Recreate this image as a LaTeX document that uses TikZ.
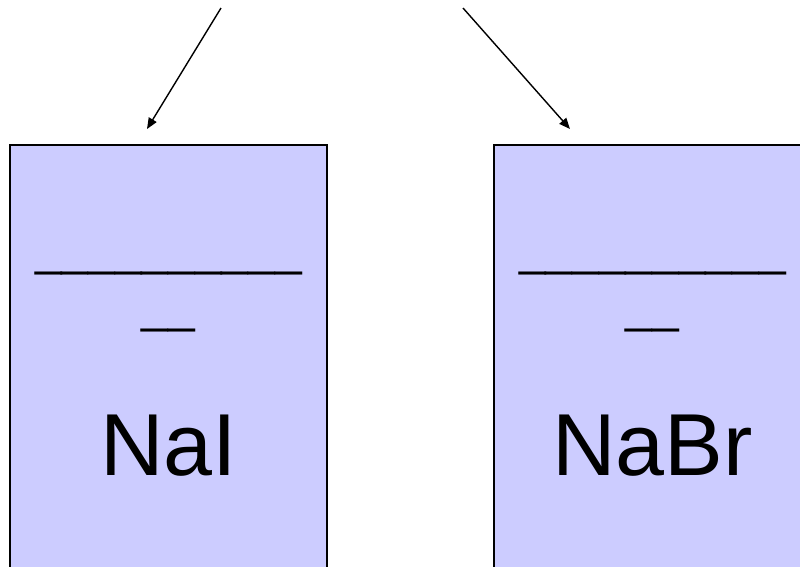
\documentclass[tikz,border=0pt]{standalone}
\usepackage{fontspec}
\setmainfont{Liberation Sans}
\usetikzlibrary{arrows.meta}
\definecolor{boxfill}{HTML}{CCCCFF}
\begin{document}
\begin{tikzpicture}[x=1pt,y=-1pt,
  tank/.style={draw=black, line width=1.4pt, fill=boxfill},
  blank/.style={font=\fontsize{48}{57.6}\selectfont, anchor=base, inner sep=0pt},
  salt/.style={font=\fontsize{88}{100}\selectfont, anchor=base, inner sep=0pt},
  feed/.style={line width=1.4pt, -{Triangle[length=11pt,width=9pt]}}]
\useasboundingbox (0,0) rectangle (800,566);
\clip (0,0) rectangle (800,566);

% two containers, running off the bottom and right edges
\draw[tank] (10,145) rectangle (327,590);
\draw[tank] (494,145) rectangle (811,590);

% left container labels
\node[blank] (lblankA) at (168.5,265) {\_\_\_\_\_\_\_\_\_\_};
\node[blank] (lblankB) at (168.5,322.6) {\_\_};
\node[salt] (nai) at (168.5,475) {NaI};

% right container labels
\node[blank] (rblankA) at (652.5,265) {\_\_\_\_\_\_\_\_\_\_};
\node[blank] (rblankB) at (652.5,322.6) {\_\_};
\node[salt] (nabr) at (652.5,475) {NaBr};

% incoming arrows
\coordinate (lfrom) at (221,8);
\coordinate (lto) at (147,129);
\coordinate (rfrom) at (463,8);
\coordinate (rto) at (570,129);
\draw[feed] (lfrom) -- (lto);
\draw[feed] (rfrom) -- (rto);
\end{tikzpicture}
\end{document}
